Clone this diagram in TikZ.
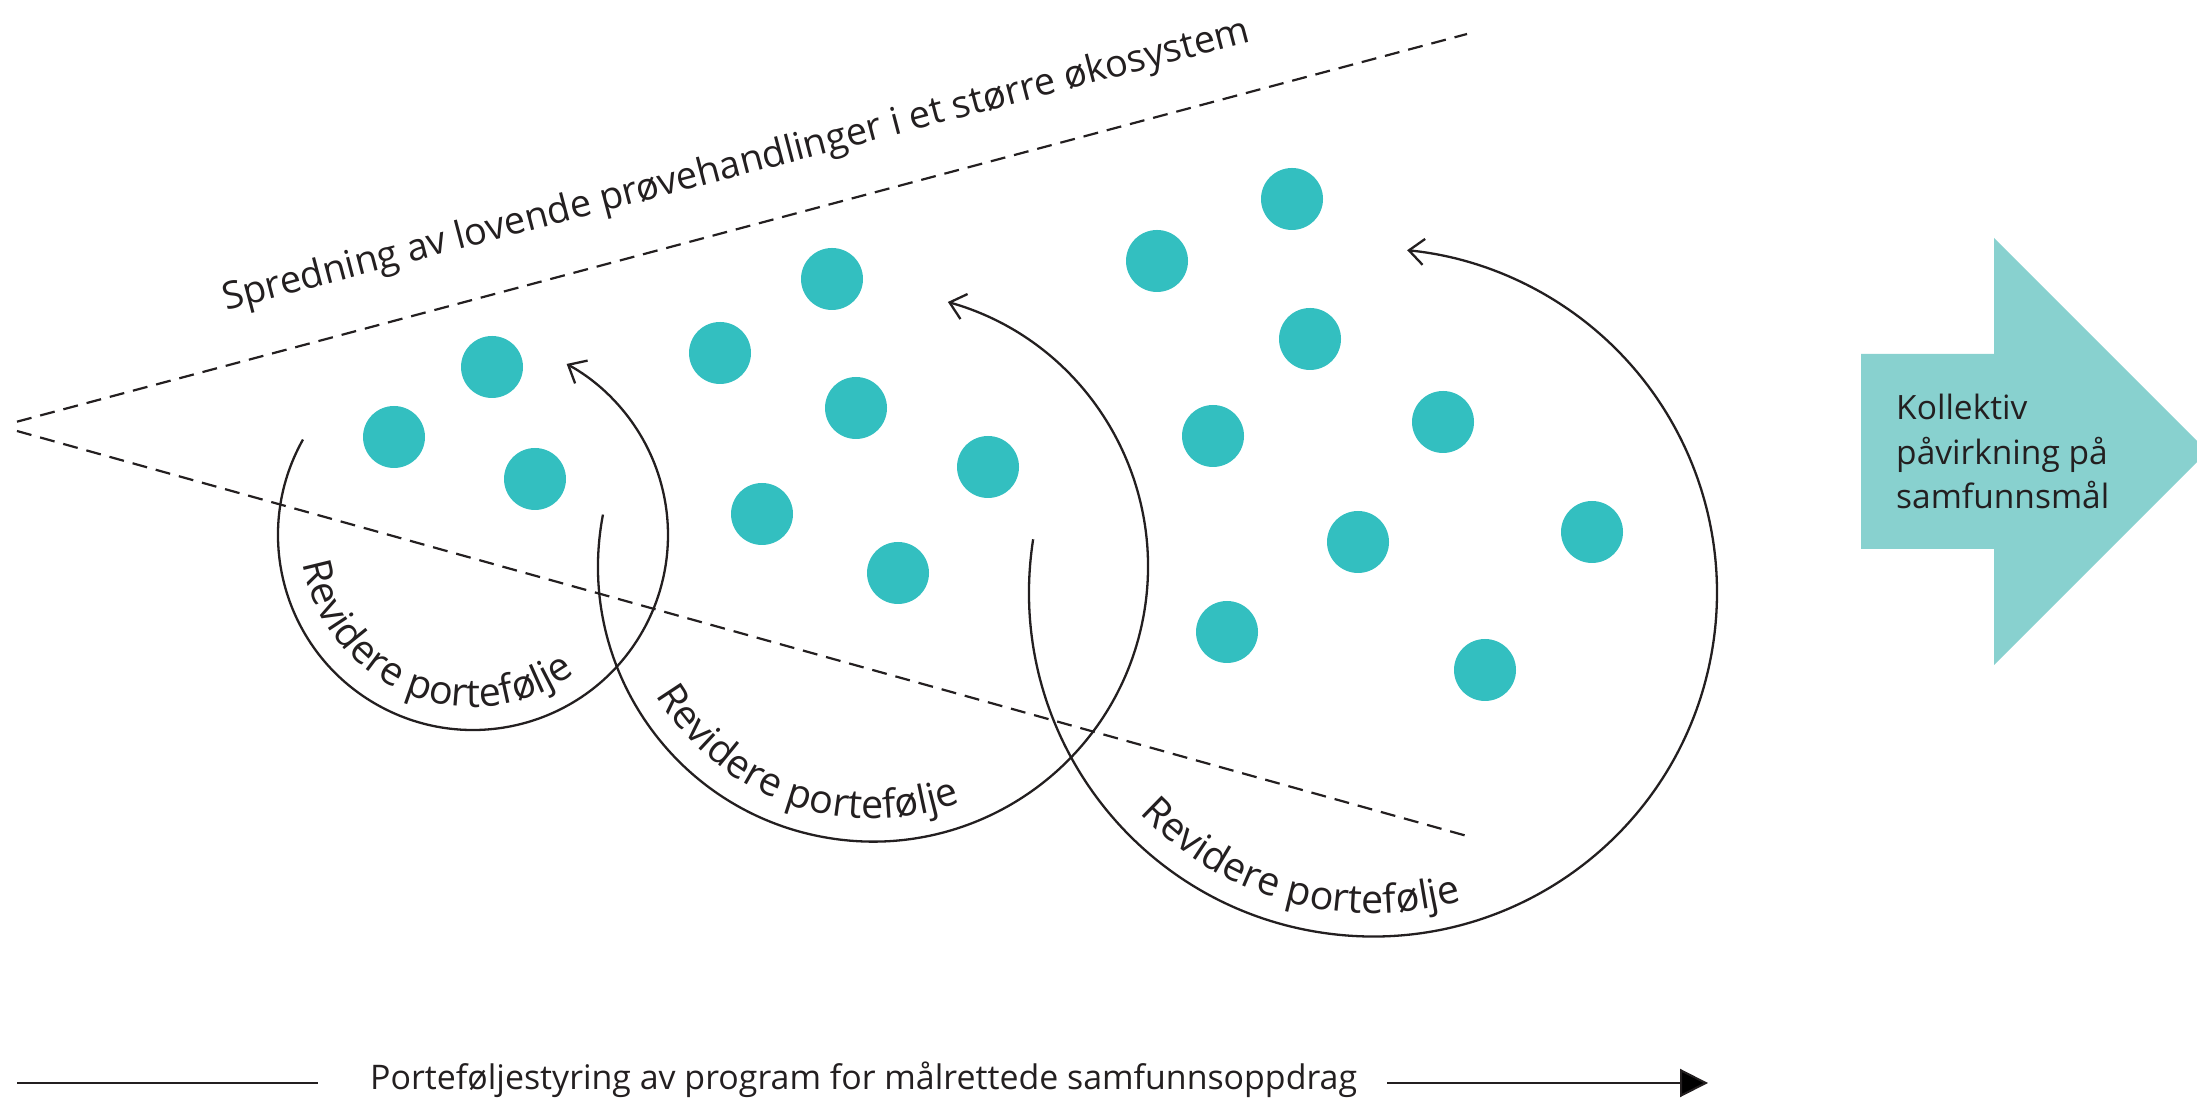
\documentclass[tikz,border=0pt]{standalone}
\usepackage{fontspec}
\setmainfont{Open Sans}
\usetikzlibrary{arrows.meta,decorations.text}
\definecolor{dotteal}{HTML}{33BFC0}
\definecolor{arrowteal}{HTML}{88D1CF}
\definecolor{ink}{HTML}{231F20}
\newcommand\arcfont{\fontsize{39.5}{42}\selectfont}
\newcommand\topfont{\fontsize{37.9}{40}\selectfont}
\newcommand\botfont{\fontsize{33.9}{37}\selectfont}
\newcommand\goalfont{\fontsize{33.5}{44.5}\selectfont}
\begin{document}
\begin{tikzpicture}[x=1pt,y=1pt,
  dotnode/.style={circle, fill=dotteal, minimum size=62pt, inner sep=0pt},
  guide/.style={dash pattern=on 15pt off 9pt, line width=2.2pt, draw=ink},
  loopline/.style={line width=2.3pt, draw=ink, -{Straight Barb[length=15pt,width=26pt,line width=2.3pt]}},
  looptext/.style={decorate, decoration={text along path, text align=center, text color=ink, text={|\arcfont|Revidere portefølje}}},
]
\useasboundingbox (0,0) rectangle (2197,1102);

% dashed funnel
\coordinate (apexU) at (17,680.3);
\coordinate (apexL) at (17,671);
\coordinate (endU) at (1467,1068);
\coordinate (endL) at (1467,266);
\draw[guide] (apexU) -- (endU);
\draw[guide] (apexL) -- (endL);

% top label
\node[rotate=14.7, anchor=base, text=ink, font=\topfont, inner sep=0pt] (spread) at (739,926)
  {Spredning av lovende prøvehandlinger i et større økosystem};

% dots group 1
\node[dotnode] (d11) at (492,735) {};
\node[dotnode] (d12) at (394,665) {};
\node[dotnode] (d13) at (535,623) {};
% dots group 2
\node[dotnode] (d21) at (832,823) {};
\node[dotnode] (d22) at (720,749) {};
\node[dotnode] (d23) at (856,694) {};
\node[dotnode] (d24) at (988,635) {};
\node[dotnode] (d25) at (762,588) {};
\node[dotnode] (d26) at (898,529) {};
% dots group 3
\node[dotnode] (d31) at (1292,903) {};
\node[dotnode] (d32) at (1157,841) {};
\node[dotnode] (d33) at (1310,763) {};
\node[dotnode] (d34) at (1213,666) {};
\node[dotnode] (d35) at (1443,680) {};
\node[dotnode] (d36) at (1358,560) {};
\node[dotnode] (d37) at (1592,570) {};
\node[dotnode] (d38) at (1227,470) {};
\node[dotnode] (d39) at (1485,432) {};

% loops
\coordinate (c1) at (473,567);
\coordinate (c2) at (873,535.4);
\coordinate (c3) at (1373,509.5);
\draw[loopline] (c1) ++(150.7:195) arc[start angle=150.7, end angle=421.3, radius=195];
\draw[loopline] (c2) ++(169.1:275) arc[start angle=169.1, end angle=434.2, radius=275];
\draw[loopline] (c3) ++(171.1:344) arc[start angle=171.1, end angle=444.3, radius=344];
\path[looptext] (c1) ++(168:172) arc[start angle=168, end angle=328, radius=172];
\path[looptext] (c2) ++(190.5:252) arc[start angle=190.5, end angle=310.5, radius=252];
\path[looptext] (c3) ++(204.8:321) arc[start angle=204.8, end angle=304.8, radius=321];

% big arrow
\begin{scope}
\clip (0,0) rectangle (2197,1102);
\fill[arrowteal] (1861,748) -- (1994,748) -- (1994,864) -- (2207.5,650.5)
  -- (1994,437) -- (1994,553) -- (1861,553) -- cycle;
\end{scope}
\node[anchor=north west, inner sep=0pt, align=left, text=ink, font=\goalfont] (goal) at (1896,708)
  {Kollektiv\\påvirkning på\\samfunnsmål};

% bottom axis
\node[anchor=base west, inner sep=0pt, text=ink, font=\botfont] (bt) at (370,12)
  {Porteføljestyring av program for målrettede samfunnsoppdrag};
\coordinate (bl) at (17,19);
\coordinate (br) at (1708,19);
\draw[line width=2pt, draw=ink] (bl) -- ([xshift=-52pt]bl -| bt.west);
\draw[line width=2pt, draw=ink, -{Triangle[length=28pt,width=28pt]}] ([xshift=30pt]bt.east |- br) -- (br);
\end{tikzpicture}
\end{document}
